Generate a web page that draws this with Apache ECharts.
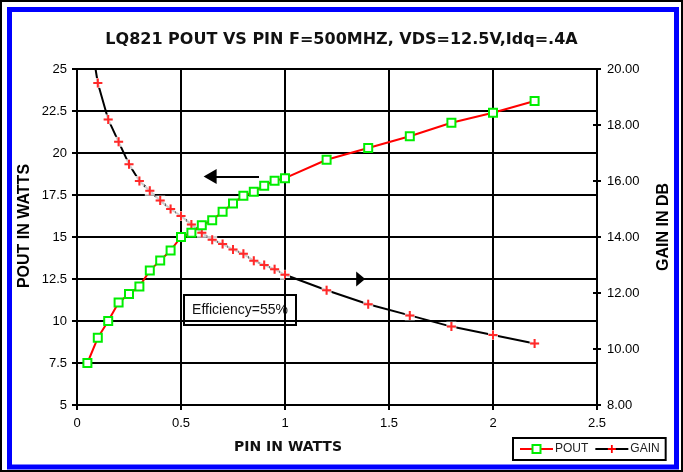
<!DOCTYPE html>
<html>
<head>
<meta charset="utf-8">
<script src="https://cdn.jsdelivr.net/npm/echarts@6/dist/echarts.min.js"></script>
<style>
  html, body { margin: 0; padding: 0; background: #fff; }
  #chart { width: 683px; height: 472px; }
</style>
</head>
<body>
<div id="chart"></div>
<script>
// Pin (W) for each measured point
var pin = [0.05, 0.10, 0.15, 0.20, 0.25, 0.30, 0.35, 0.40, 0.45, 0.50, 0.55, 0.60, 0.65,
  0.70, 0.75, 0.80, 0.85, 0.90, 0.95, 1.00, 1.20, 1.40, 1.60, 1.80, 2.00, 2.20]
// Pout (W), left axis
var pout = [7.5, 9.0, 10.0, 11.1, 11.6, 12.05, 13.0, 13.6, 14.2, 15.0, 15.25, 15.7, 16.0,
  16.5, 17.0, 17.45, 17.7, 18.05, 18.35, 18.5, 19.6, 20.3, 21.0, 21.8, 22.4, 23.1]
// Gain (dB), right axis - first point is off the top of the chart
var gain = [21.8, 19.5, 18.2, 17.4, 16.6, 16.0, 15.65, 15.3, 15.0, 14.75, 14.45, 14.15, 13.9,
  13.75, 13.55, 13.4, 13.15, 13.0, 12.85, 12.65, 12.1, 11.6, 11.2, 10.8, 10.5, 10.2]

var xTicks = [0, 0.5, 1, 1.5, 2, 2.5]
var leftTicks = [5, 7.5, 10, 12.5, 15, 17.5, 20, 22.5, 25]
var rightTicks = [8, 10, 12, 14, 16, 18, 20]

var poutData = pin.map(function (x, i) { return [x, pout[i]] })
var gainData = pin.map(function (x, i) { return [x, gain[i]] })

var cross = 'path://M3.5,0H5.5V3.5H9V5.5H5.5V9H3.5V5.5H0V3.5H3.5Z'
var black = '#000'
var labelFont = { color: black, fontSize: 13, fontFamily: 'Liberation Sans, Arial, sans-serif' }

var chart = echarts.init(document.getElementById('chart'))

var option = {
  backgroundColor: '#fff',
  animation: false,
  title: {
    text: 'LQ821 POUT VS PIN F=500MHZ, VDS=12.5V,Idq=.4A',
    left: 'center',
    top: 27,
    textStyle: { fontFamily: 'DejaVu Sans', fontWeight: 'bold', fontSize: 16, color: '#111' }
  },
  legend: {
    left: 513,
    top: 438,
    padding: [5, 6, 5, 6],
    itemGap: 6,
    itemWidth: 33,
    itemHeight: 10,
    borderColor: black,
    borderWidth: 2,
    backgroundColor: '#fff',
    data: ['POUT', 'GAIN'],
    textStyle: { color: '#222', fontSize: 12, fontFamily: 'Liberation Sans, Arial, sans-serif', padding: [0, 0, 0, -3] }
  },
  grid: { left: 77, right: 86, top: 69, bottom: 67 },
  xAxis: {
    type: 'value',
    min: xTicks[0],
    max: xTicks[xTicks.length - 1],
    interval: 0.5,
    axisLine: { lineStyle: { color: black, width: 2 } },
    axisTick: { length: 5, lineStyle: { color: black, width: 2 } },
    axisLabel: Object.assign({ margin: 12 }, labelFont),
    splitLine: { lineStyle: { color: black, width: 2 } }
  },
  yAxis: [
    {
      type: 'value',
      min: leftTicks[0],
      max: leftTicks[leftTicks.length - 1],
      interval: 2.5,
      axisLine: { show: true, lineStyle: { color: black, width: 2 } },
      axisTick: { show: true, length: 5, lineStyle: { color: black, width: 2 } },
      axisLabel: Object.assign({ margin: 10 }, labelFont),
      splitLine: { lineStyle: { color: black, width: 2 } }
    },
    {
      type: 'value',
      position: 'right',
      min: rightTicks[0],
      max: rightTicks[rightTicks.length - 1],
      interval: 2,
      axisLine: { show: true, lineStyle: { color: black, width: 2 } },
      axisTick: { show: true, length: 4, lineStyle: { color: black, width: 2 } },
      axisLabel: Object.assign({ margin: 10, formatter: function (v) { return v.toFixed(2) } }, labelFont),
      splitLine: { show: false }
    },
    {
      // inside half of the right-hand ticks
      type: 'value',
      position: 'right',
      min: rightTicks[0],
      max: rightTicks[rightTicks.length - 1],
      interval: 2,
      axisLine: { show: false },
      axisTick: { show: true, inside: true, length: 4, lineStyle: { color: black, width: 2 } },
      axisLabel: { show: false },
      splitLine: { show: false }
    }
  ],
  series: [
    {
      name: 'GAIN',
      type: 'line',
      yAxisIndex: 1,
      data: gainData,
      symbol: cross,
      symbolSize: 9,
      itemStyle: { color: '#ff0000' },
      lineStyle: { color: black, width: 2 },
      z: 2
    },
    {
      // white patch behind each gain marker (hides line/grid like the original)
      name: 'gainBg',
      type: 'scatter',
      yAxisIndex: 1,
      data: gainData,
      symbol: 'rect',
      symbolSize: 10,
      itemStyle: { color: '#fff' },
      silent: true,
      z: 3
    },
    {
      name: 'gainMarks',
      type: 'scatter',
      yAxisIndex: 1,
      data: gainData,
      symbol: cross,
      symbolSize: 9,
      itemStyle: { color: '#ff0000' },
      silent: true,
      z: 4
    },
    {
      name: 'POUT',
      type: 'line',
      yAxisIndex: 0,
      data: poutData,
      symbol: 'rect',
      symbolSize: 8,
      showAllSymbol: true,
      itemStyle: { color: '#fff', borderColor: '#00ee00', borderWidth: 2 },
      lineStyle: { color: '#ff0000', width: 2 },
      z: 5,
      markLine: {
        silent: true,
        symbol: ['none', 'triangle'],
        label: { show: false },
        lineStyle: { color: black, width: 2, type: 'solid' },
        data: [
          [{ coord: [0.875, 18.6], symbolSize: 0 }, { coord: [0.64, 18.6], symbolSize: [15, 13] }],
          [{ coord: [1.0, 12.5], symbolSize: 0 }, { coord: [1.364, 12.5], symbolSize: [15, 9] }]
        ]
      }
    }
  ],
  graphic: [
    {
      type: 'rect',
      shape: { x: 1, y: 1, width: 681, height: 470 },
      style: { fill: 'none', stroke: black, lineWidth: 2 },
      silent: true
    },
    {
      type: 'rect',
      shape: { x: 9.5, y: 9.5, width: 667, height: 457.5 },
      style: { fill: 'none', stroke: '#0000ff', lineWidth: 5 },
      silent: true
    },
    {
      type: 'text',
      x: 25,
      y: 226,
      rotation: Math.PI / 2,
      style: {
        text: 'POUT IN WATTS',
        fill: black,
        font: 'bold 16px "Liberation Sans", Arial, sans-serif',
        textAlign: 'center',
        textVerticalAlign: 'middle'
      }
    },
    {
      type: 'text',
      x: 664,
      y: 227,
      rotation: Math.PI / 2,
      style: {
        text: 'GAIN IN DB',
        fill: black,
        font: 'bold 16px "Liberation Sans", Arial, sans-serif',
        textAlign: 'center',
        textVerticalAlign: 'middle'
      }
    },
    {
      type: 'text',
      x: 288,
      y: 447,
      style: {
        text: 'PIN IN WATTS',
        fill: '#111',
        font: 'bold 14px "DejaVu Sans", sans-serif',
        textAlign: 'center',
        textVerticalAlign: 'middle'
      }
    },
    {
      type: 'group',
      x: 184,
      y: 295,
      z: 10,
      children: [
        {
          type: 'rect',
          shape: { x: 0, y: 0, width: 112, height: 30 },
          style: { fill: '#fff', stroke: black, lineWidth: 2 }
        },
        {
          type: 'text',
          x: 56,
          y: 15,
          style: {
            text: 'Efficiency=55%',
            fill: '#111',
            font: '14px "Liberation Sans", Arial, sans-serif',
            textAlign: 'center',
            textVerticalAlign: 'middle'
          }
        }
      ]
    }
  ]
}

chart.setOption(option)
</script>
</body>
</html>
